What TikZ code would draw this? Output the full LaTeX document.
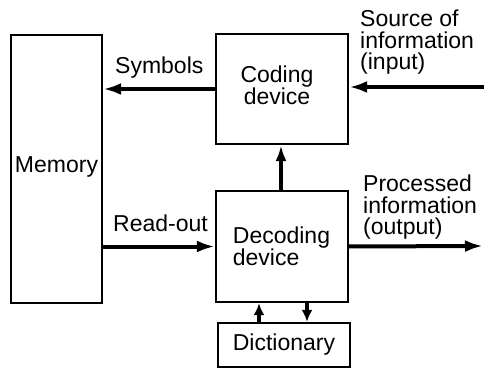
\documentclass[tikz,border=0pt]{standalone}
\usepackage{fontspec}
\setmainfont{Liberation Sans}
\usetikzlibrary{arrows.meta}
\begin{document}
\begin{tikzpicture}[x=1pt,y=-1pt,
  box/.style={draw, line width=2.4pt, inner sep=0pt, minimum width=#1},
  lbl/.style={inner sep=0pt, font=\fontsize{23}{22}\selectfont},
  sidelbl/.style={lbl, align=left, anchor=north west, font=\fontsize{23}{21.5}\selectfont},
  arr/.style={line width=4pt, -{Latex[length=18pt,width=12pt]}},
  varr/.style={line width=3.5pt, -{Latex[length=16pt,width=11pt]}},
  sarr/.style={line width=3.5pt, -{Latex[length=12pt,width=11pt]}}]
  \useasboundingbox[fill=white] (0,0) rectangle (484,371);

  % blocks
  \node[box=91pt,  minimum height=268pt] (memory)   at (56.5,169)  {};
  \node[box=132pt, minimum height=110pt] (coding)   at (282,89)    {};
  \node[box=132pt, minimum height=111pt] (decoding) at (282,246.5) {};
  \node[box=132pt, minimum height=44pt, lbl] (dict) at (284,345) {Dictionary};

  % block texts
  \node[lbl, anchor=base] (memtext) at (56.5,173) {Memory};
  \node[lbl, align=center] (codtext) at (277,85.6) {Coding\\device};
  \node[lbl, align=left]   (dectext) at (281.5,246) {Decoding\\device};

  % arrow labels
  \node[lbl, anchor=base west] (symlbl)  at (115,74)  {Symbols};
  \node[lbl, anchor=base west] (readlbl) at (113,232) {Read-out};
  \node[sidelbl] (srclbl) at (360,10)  {Source of\\information\\(input)};
  \node[sidelbl] (outlbl) at (363,175) {Processed\\information\\(output)};

  % free ends and helper columns
  \coordinate (inA)  at (484,87);
  \coordinate (outB) at (483,246);
  \coordinate (dl)   at (259,0);
  \coordinate (dr)   at (307,0);

  % connectors
  \draw[arr] (coding.west) -- (memory.east |- coding.west);
  \draw[arr] (memory.east |- decoding.west) -- (decoding.west);
  \draw[arr] (inA) -- (coding.east |- inA);
  \draw[arr] (decoding.east) -- (outB);
  \draw[varr] (decoding.north -| 281,0) -- (coding.south -| 281,0);
  \draw[sarr] (dict.north -| dl) -- (decoding.south -| dl);
  \draw[sarr] (decoding.south -| dr) -- (dict.north -| dr);
\end{tikzpicture}
\end{document}
